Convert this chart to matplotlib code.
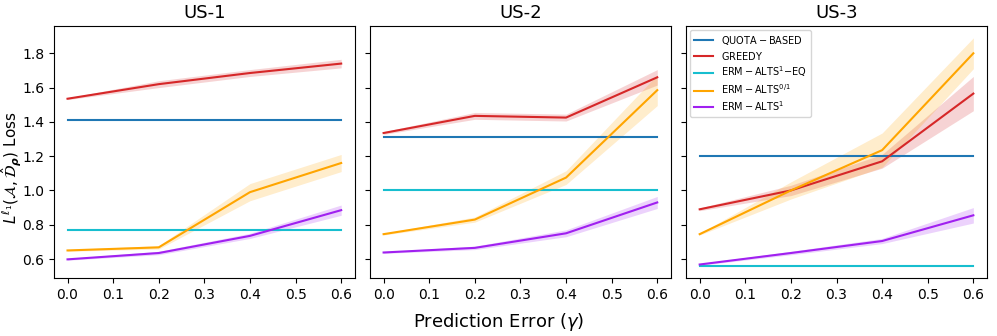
import numpy as np
import matplotlib
matplotlib.use("Agg")
import matplotlib.pyplot as plt

gammas = [0.0, 0.2, 0.4, 0.6]
titles = ["US-1", "US-2", "US-3"]

labels = [r"$\mathrm{QUOTA-BASED}$", r"$\mathrm{GREEDY}$", r"$\mathrm{ERM-ALTS^1{-}EQ}$",
          r"$\mathrm{ERM-ALTS^{0/1}}$", r"$\mathrm{ERM-ALTS^1}$"]
colors = ["#1f77b4", "#d62728", "#17becf", "orange", "#a020f0"]

# mean loss per panel, per method
quota = [1.41, 1.31, 1.20]
greedy = [[1.535, 1.62, 1.685, 1.74],
          [1.335, 1.435, 1.425, 1.66],
          [0.89, 1.00, 1.17, 1.565]]
eq = [0.77, 1.005, 0.56]
alts01 = [[0.65, 0.668, 0.99, 1.16],
          [0.745, 0.83, 1.075, 1.585],
          [0.745, 1.00, 1.235, 1.80]]
alts1 = [[0.598, 0.635, 0.735, 0.885],
         [0.638, 0.665, 0.75, 0.93],
         [0.568, 0.635, 0.705, 0.855]]

# half-width of shaded bands
greedy_err = [[0.005, 0.02, 0.02, 0.025],
              [0.008, 0.02, 0.02, 0.045],
              [0.008, 0.03, 0.04, 0.10]]
alts01_err = [[0.005, 0.01, 0.05, 0.05],
              [0.005, 0.015, 0.04, 0.09],
              [0.005, 0.05, 0.10, 0.09]]
alts1_err = [[0.005, 0.01, 0.015, 0.03],
             [0.005, 0.01, 0.02, 0.035],
             [0.005, 0.01, 0.015, 0.045]]

fig, axes = plt.subplots(1, 3, figsize=(9.97, 3.36), dpi=100, sharey=True)
fig.subplots_adjust(left=0.054, right=0.99, top=0.923, bottom=0.173, wspace=0.05)

for i, ax in enumerate(axes):
    x = np.array(gammas)
    ax.plot(x, [quota[i]] * len(x), color=colors[0], lw=1.5, label=labels[0])
    ax.plot(x, np.array(greedy[i]), color=colors[1], lw=1.5, label=labels[1])
    ax.plot(x, [eq[i]] * len(x), color=colors[2], lw=1.5, label=labels[2])
    ax.plot(x, np.array(alts01[i]), color=colors[3], lw=1.5, label=labels[3])
    ax.plot(x, np.array(alts1[i]), color=colors[4], lw=1.5, label=labels[4])
    for m, e, c in [(greedy[i], greedy_err[i], colors[1]),
                    (alts01[i], alts01_err[i], colors[3]),
                    (alts1[i], alts1_err[i], colors[4])]:
        m = np.array(m)
        e = np.array(e)
        ax.fill_between(x, m - e, m + e, color=c, alpha=0.2, lw=0)
    ax.set_title(titles[i], fontsize=13)
    ax.set_xticks([0.0, 0.1, 0.2, 0.3, 0.4, 0.5, 0.6])
    ax.tick_params(labelsize=10)

axes[0].set_ylim(0.49, 1.96)
axes[0].set_yticks([0.6, 0.8, 1.0, 1.2, 1.4, 1.6, 1.8])
fig.text(0.0245, 0.5, r"$L^{\ell_1}(\mathcal{A}, \hat{\mathcal{D}}_{\boldsymbol{\rho}})$ Loss",
         fontsize=11, rotation=90, ha="right", va="center")
axes[2].legend(loc="upper left", fontsize=7, labelspacing=0.3, borderaxespad=0.4)
fig.supxlabel(r"Prediction Error ($\gamma$)", fontsize=13, y=0.01)

fig.savefig("out.png", dpi=100)
